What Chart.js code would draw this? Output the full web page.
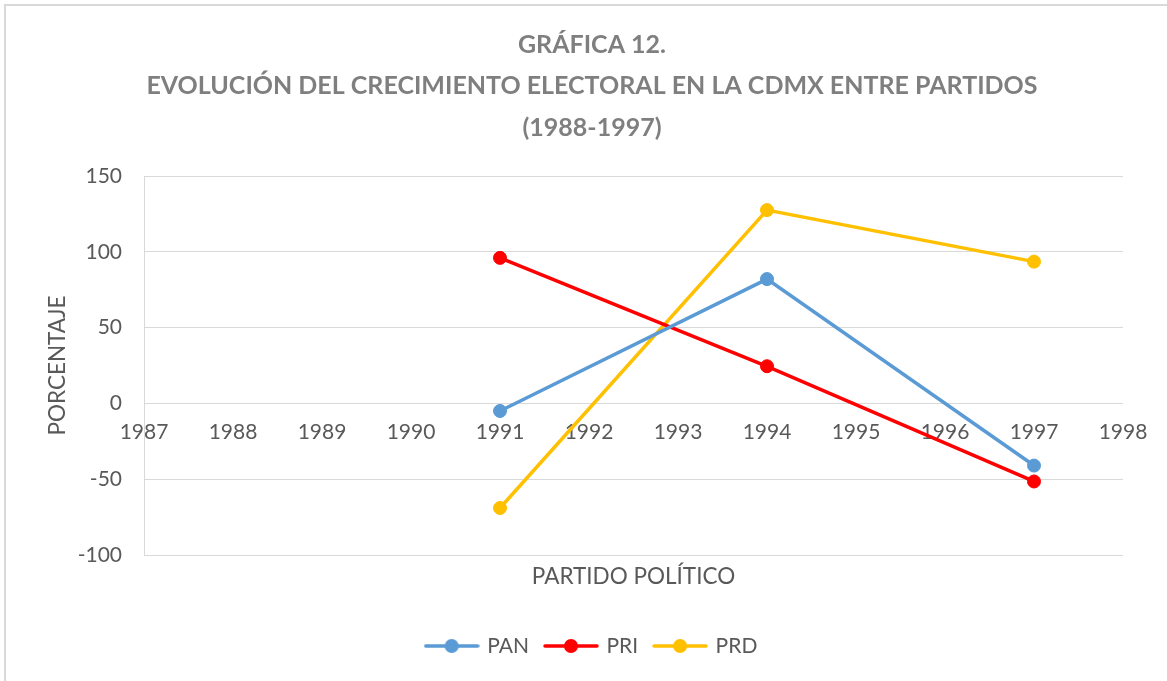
<!DOCTYPE html>
<html>
<head>
<meta charset="utf-8">
<script src="https://cdn.jsdelivr.net/npm/chart.js@4/dist/chart.umd.min.js"></script>
<style>
html,body{margin:0;padding:0;background:#fff;}
#wrap{width:1167px;height:681px;position:relative;}
</style>
</head>
<body>
<div id="wrap"><canvas id="c" width="1167" height="681"></canvas></div>
<script>
const titleLines = ['GRÁFICA 12.', 'EVOLUCIÓN DEL CRECIMIENTO ELECTORAL EN LA CDMX ENTRE PARTIDOS', '(1988-1997)'];
const years = [1991, 1994, 1997];
const seriesNames = ['PAN', 'PRI', 'PRD'];
const pan = [-5, 82, -41];
const pri = [96, 24.5, -51.5];
const prd = [-69, 127.5, 93.5];
const xMin = 1987, xMax = 1998;
const yMin = -100, yMax = 150, yStep = 50;
const colors = ['#5B9BD5', '#FF0000', '#FFC000'];
const FONT = 'Lato';
const TXT = '#595959';

function legendImage(color) {
  const c = document.createElement('canvas');
  c.width = 56; c.height = 16;
  const g = c.getContext('2d');
  g.strokeStyle = color; g.lineWidth = 3.5; g.lineCap = 'round';
  g.beginPath(); g.moveTo(2, 8); g.lineTo(54, 8); g.stroke();
  g.fillStyle = color;
  g.beginPath(); g.arc(28, 8, 7, 0, Math.PI * 2); g.fill();
  return c;
}
const legendImgs = colors.map(legendImage);

function pts(vals) { return years.map((x, i) => ({x: x, y: vals[i]})); }

const frame = {
  id: 'frame',
  beforeDraw(chart) {
    const g = chart.ctx;
    g.save();
    g.fillStyle = '#fff';
    g.fillRect(0, 0, chart.width, chart.height);
    g.strokeStyle = '#d9d9d9';
    g.lineWidth = 2;
    g.beginPath();
    g.moveTo(5, chart.height); g.lineTo(5, 5); g.lineTo(chart.width, 5);
    g.stroke();
    g.restore();
  }
};

const ds = [pan, pri, prd].map((vals, i) => ({
  label: seriesNames[i],
  data: pts(vals),
  borderColor: colors[i],
  backgroundColor: colors[i],
  borderWidth: 3.5,
  pointRadius: 6.5,
  pointHoverRadius: 6.5,
  pointBorderWidth: 1,
  pointBackgroundColor: colors[i],
  pointBorderColor: colors[i],
  tension: 0,
  xAxisID: 'x',
  yAxisID: 'y'
}));

new Chart(document.getElementById('c'), {
  type: 'line',
  data: { datasets: ds },
  plugins: [frame],
  options: {
    responsive: false,
    animation: false,
    events: [],
    layout: { padding: { left: 17, right: 0, top: 0, bottom: 14.5 } },
    plugins: {
      title: {
        display: true,
        text: titleLines,
        color: '#7f7f7f',
        font: { family: FONT, size: 25, weight: 'bold', lineHeight: 1.66 },
        padding: { top: 24, bottom: 27.5 }
      },
      legend: {
        display: true,
        position: 'bottom',
        labels: {
          color: TXT,
          font: { family: FONT, size: 21 },
          usePointStyle: true,
          pointStyleWidth: 50,
          padding: 17,
          generateLabels(chart) {
            const items = Chart.defaults.plugins.legend.labels.generateLabels(chart);
            items.forEach((it, i) => { it.pointStyle = legendImgs[i]; });
            return items;
          }
        }
      },
      tooltip: { enabled: false }
    },
    scales: {
      x: {
        type: 'linear',
        position: { y: 0 },
        min: xMin, max: xMax,
        grid: { display: false, drawTicks: false },
        border: { display: false },
        ticks: {
          stepSize: 1, autoSkip: false, maxRotation: 0, color: TXT, padding: 16.5,
          font: { family: FONT, size: 21 },
          callback: v => String(v)
        }
      },
      x2: {
        type: 'linear',
        position: 'bottom',
        min: xMin, max: xMax,
        grid: { display: false, drawTicks: false },
        border: { display: false },
        ticks: { display: false },
        title: {
          display: true, text: 'PARTIDO POLÍTICO', color: TXT,
          font: { family: FONT, size: 22.5 },
          padding: { top: 8.5, bottom: 28 }
        }
      },
      y: {
        type: 'linear',
        position: 'left',
        min: yMin, max: yMax,
        afterFit(s) { s.width = 127; },
        grid: { color: '#d9d9d9', lineWidth: 1, drawTicks: false },
        border: { display: true, color: '#d9d9d9', width: 1 },
        ticks: { stepSize: yStep, color: TXT, padding: 22, font: { family: FONT, size: 21 } },
        title: {
          display: true, text: 'PORCENTAJE', color: TXT,
          font: { family: FONT, size: 22.5 },
          padding: { top: 27.5, bottom: 0 }
        }
      },
      y2: {
        type: 'linear',
        position: 'right',
        display: true,
        min: yMin, max: yMax,
        afterFit(s) { s.width = 44; },
        grid: { display: false, drawTicks: false },
        border: { display: false },
        ticks: { display: false }
      }
    }
  }
});
</script>
</body>
</html>
